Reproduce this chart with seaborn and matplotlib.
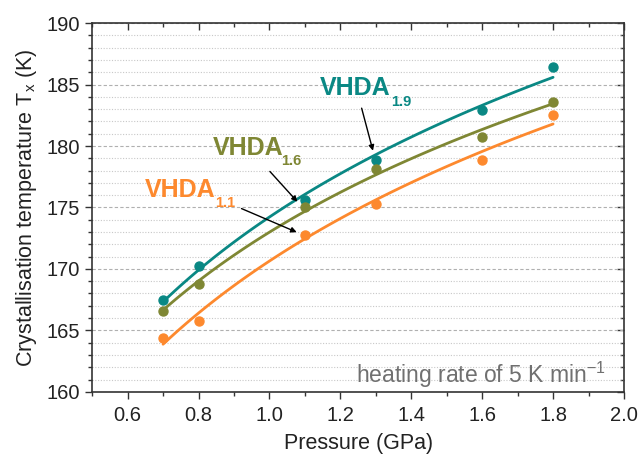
import numpy as np
import matplotlib
matplotlib.use("Agg")
import matplotlib.pyplot as plt
import seaborn as sns
from matplotlib.ticker import MultipleLocator

pressure = [0.7, 0.8, 1.1, 1.3, 1.6, 1.8]
tx_19 = [167.5, 170.2, 175.6, 178.9, 182.9, 186.4]
tx_16 = [166.6, 168.8, 175.0, 178.1, 180.7, 183.6]
tx_11 = [164.4, 165.8, 172.8, 175.3, 178.9, 182.5]

teal = '#0a8884'
olive = '#7f8734'
orange = '#fd892e'

sns.set_style("ticks")
plt.rcParams['font.family'] = ['Liberation Sans', 'DejaVu Sans']
plt.rcParams['mathtext.fontset'] = 'custom'
plt.rcParams['mathtext.rm'] = 'Liberation Sans'
plt.rcParams['mathtext.it'] = 'Liberation Sans'

f, ax = plt.subplots(figsize=(6.4, 4.54), dpi=100)
f.subplots_adjust(left=0.144, right=0.975, top=0.949, bottom=0.137)

for y, c in [(tx_19, teal), (tx_16, olive), (tx_11, orange)]:
    sns.regplot(x=pressure, y=y, logx=True, ci=None, ax=ax, color=c,
                scatter_kws={'s': 42, 'alpha': 1, 'zorder': 3},
                line_kws={'lw': 2, 'zorder': 2})

ax.set_xlim(0.5, 2.0)
ax.set_ylim(160, 190)
ax.xaxis.set_major_locator(MultipleLocator(0.2))
ax.xaxis.set_minor_locator(MultipleLocator(0.1))
ax.yaxis.set_major_locator(MultipleLocator(5))
ax.yaxis.set_minor_locator(MultipleLocator(1))
ax.xaxis.set_major_formatter(matplotlib.ticker.FormatStrFormatter('%.1f'))

ax.grid(axis='y', which='major', color='#b0b0b0', ls=(0, (3, 2)), lw=0.8)
ax.grid(axis='y', which='minor', color='#c8c8c8', ls=(0, (1, 1.5)), lw=0.8)
ax.set_axisbelow(True)

for s in ax.spines.values():
    s.set_visible(True)
    s.set_color('#333333')
    s.set_linewidth(1.2)

# left/bottom ticks outward, top/right inward (Origin style)
ax.tick_params(which='major', direction='out', length=5, width=1, labelsize=14.5,
               colors='#333333', labelcolor='#222222')
ax.tick_params(which='minor', direction='out', length=3, width=1, colors='#333333')
sec_x = ax.secondary_xaxis('top')
sec_y = ax.secondary_yaxis('right')
for sec in (sec_x, sec_y):
    sec.tick_params(which='major', direction='in', length=5, width=1, colors='#333333')
    sec.tick_params(which='minor', direction='in', length=3, width=1, colors='#333333')
    sec.spines[:].set_visible(False)
sec_x.xaxis.set_major_locator(MultipleLocator(0.2))
sec_x.xaxis.set_minor_locator(MultipleLocator(0.1))
sec_x.set_xticklabels([])
sec_y.yaxis.set_major_locator(MultipleLocator(5))
sec_y.yaxis.set_minor_locator(MultipleLocator(1))
sec_y.set_yticklabels([])
ax.tick_params(axis='x', which='major', pad=5)

ax.set_xlabel('Pressure (GPa)', fontsize=15.5, color='#222222', labelpad=6)
ax.set_ylabel('Crystallisation temperature T$_\\mathrm{x}$ (K)', fontsize=15.5,
              color='#222222', labelpad=6)

lab = {'fontsize': 18, 'fontweight': 'bold'}
sub = {'fontsize': 10.5, 'fontweight': 'bold'}
ax.text(1.143, 184.7, 'VHDA', color=teal, va='center', **lab)
ax.text(1.342, 183.6, '1.9', color=teal, va='center', **sub)
ax.text(0.841, 179.8, 'VHDA', color=olive, va='center', **lab)
ax.text(1.032, 178.75, '1.6', color=olive, va='center', **sub)
ax.text(0.649, 176.4, 'VHDA', color=orange, va='center', **lab)
ax.text(0.848, 175.4, '1.1', color=orange, va='center', **sub)

arrow = dict(arrowstyle='-|>', color='black', lw=1, mutation_scale=8)
ax.annotate('', xy=(1.294, 179.4), xytext=(1.258, 183.3), arrowprops=arrow)
ax.annotate('', xy=(1.084, 175.3), xytext=(0.996, 178.1), arrowprops=arrow)
ax.annotate('', xy=(1.084, 172.9), xytext=(0.914, 175.0), arrowprops=arrow)

ax.text(1.95, 160.75, 'heating rate of 5 K min$^{-1}$', color='#707070',
        fontsize=16.5, ha='right', va='baseline')

plt.savefig('out.png', dpi=100)
